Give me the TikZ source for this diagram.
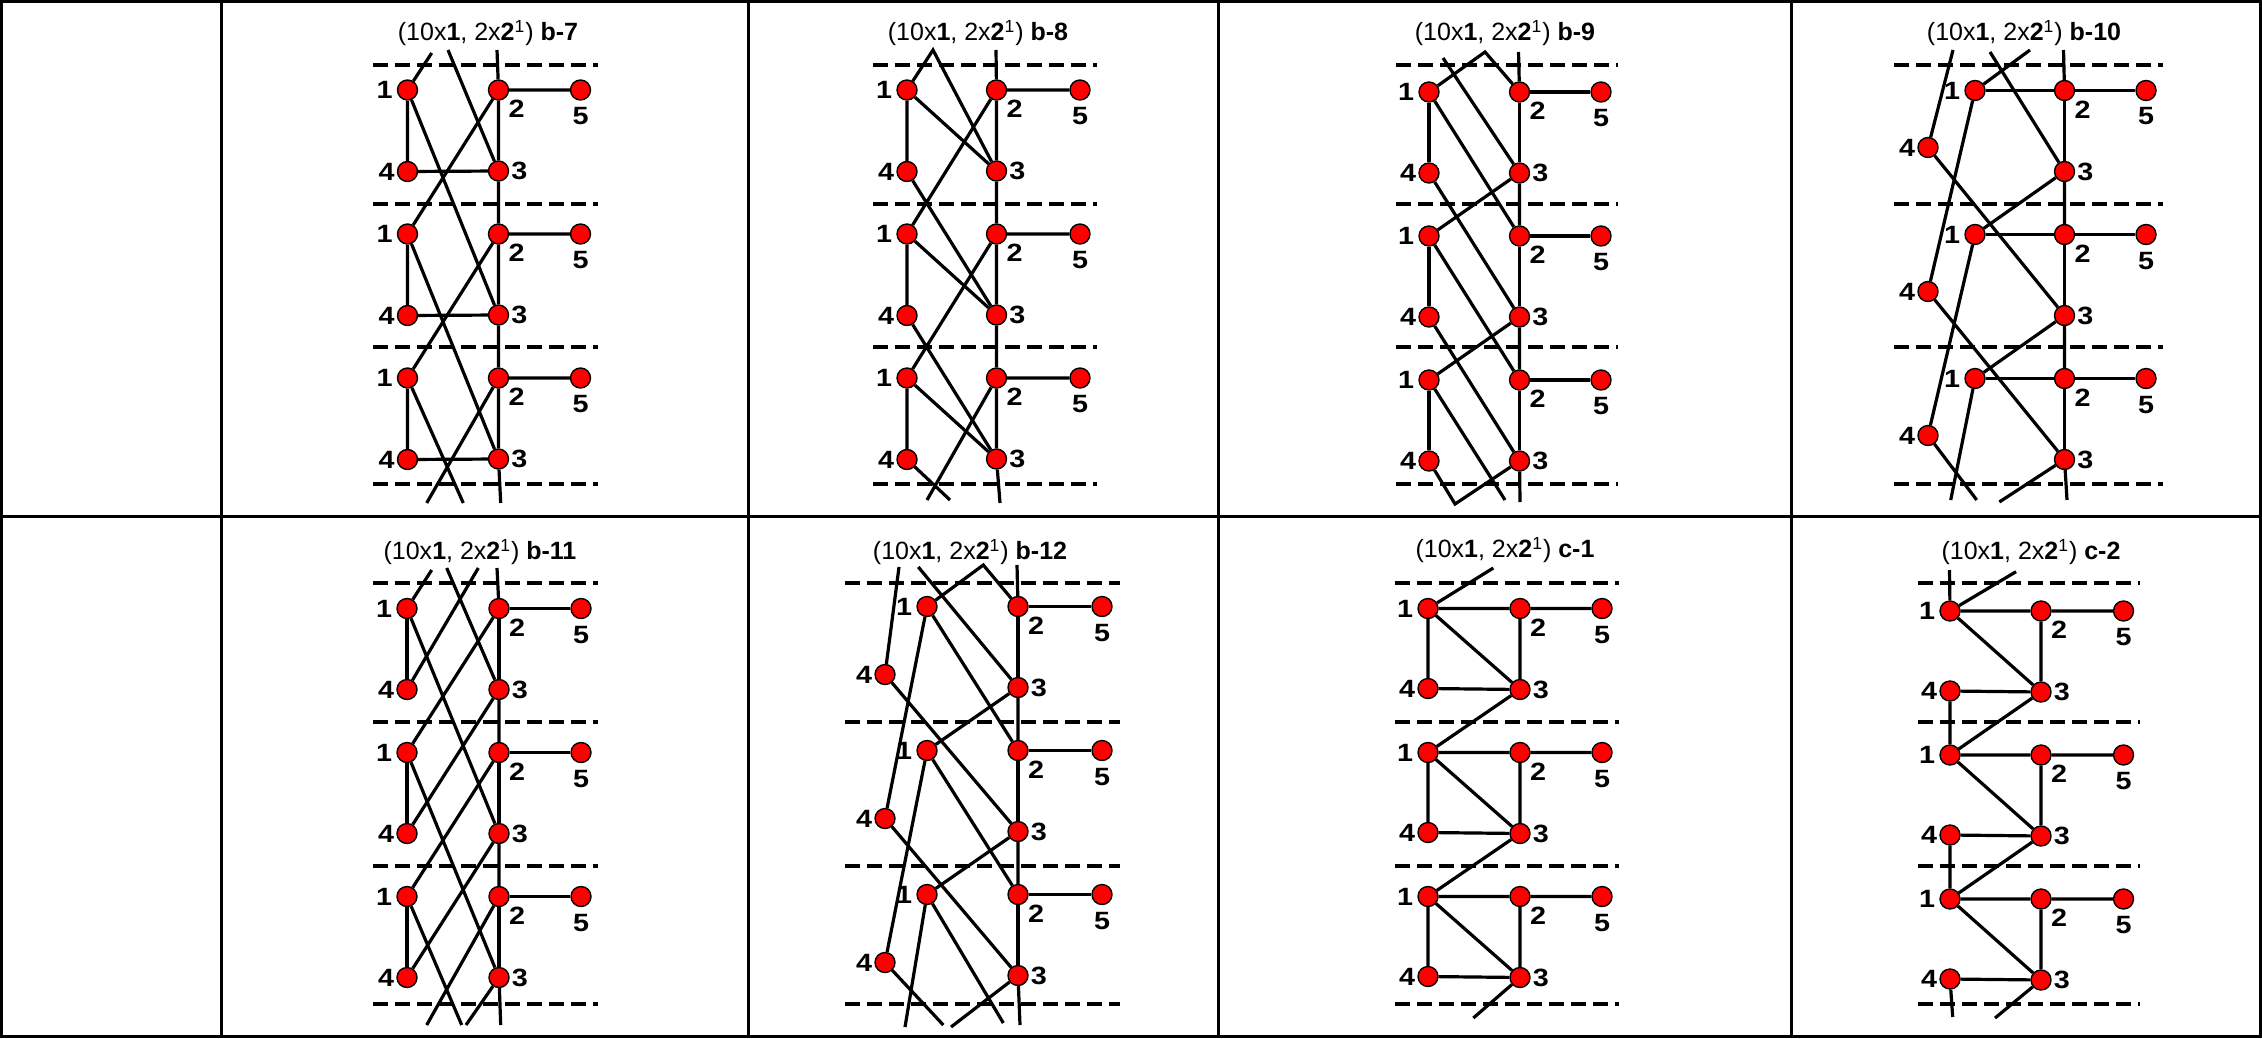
\documentclass[tikz,border=0pt]{standalone}
\usepackage{fontspec}
\setmainfont{Liberation Sans}
\newfontfamily\labfont[FakeStretch=1.15]{Liberation Sans}

% the five sites of one cell, three periods stacked
% #1 name, #2 x of 1, #3 x of 2/3, #4 x of 5, #5 x of 4, #6 y of 1, #7 drop of 4
\newcommand{\cellsites}[7]{%
  \foreach \g in {1,2,3} {
    \pgfmathsetmacro{\yy}{#6+144*(\g-1)}
    \pgfmathsetmacro{\yl}{\yy+81}
    \pgfmathsetmacro{\yf}{\yy+#7}
    \node[site, label={[lab,label distance=1.4pt]left:1}] (#1-1-\g) at (#2,\yy) {};
    \node[site, label={[lab,label distance=0.8pt]below right:2}] (#1-2-\g) at (#3,\yy) {};
    \node[site, label={[lab,label distance=0.4pt]right:3}] (#1-3-\g) at (#3,\yl) {};
    \node[site, label={[lab,label distance=0.4pt]left:4}] (#1-4-\g) at (#5,\yf) {};
    \node[site, label={[lab,label distance=2.6pt]below:5}] (#1-5-\g) at (#4,\yy) {};
  }%
}

\begin{document}
\begin{tikzpicture}[x=0.5pt, y=-0.5pt,
    site/.style={circle, fill=red, draw=black, line width=0.7pt, minimum size=10pt, inner sep=0pt},
    lab/.style={font=\labfont\fontsize{12.5}{13}\selectfont\bfseries, inner sep=0.5pt},
    ttl/.style={font=\fontsize{12.5}{14}\selectfont, inner sep=0pt},
    bond/.style={line width=1.6pt},
    cut/.style={line width=2pt, dash pattern=on 7.5pt off 3.5pt},
    tabline/.style={line width=1.5pt}]

\useasboundingbox (0,0) rectangle (2262,1038);

% Table
\draw[tabline] (1.5,1.5) rectangle (2260.5,1036.5);
\draw[tabline] (1.5,516.5) -- (2260.5,516.5);
\foreach \x in {221,748,1218,1791} {
    \draw[tabline] (\x,1.5) -- (\x,1036.5);
}

% Titles
\node[ttl] (b7-title) at (488,33) {(10x\textbf{1}, 2x\textbf{2}\textsuperscript{1}) \textbf{b-7}};
\node[ttl] (b8-title) at (978,33) {(10x\textbf{1}, 2x\textbf{2}\textsuperscript{1}) \textbf{b-8}};
\node[ttl] (b9-title) at (1505,33) {(10x\textbf{1}, 2x\textbf{2}\textsuperscript{1}) \textbf{b-9}};
\node[ttl] (b10-title) at (2024,33) {(10x\textbf{1}, 2x\textbf{2}\textsuperscript{1}) \textbf{b-10}};
\node[ttl] (b11-title) at (480,552) {(10x\textbf{1}, 2x\textbf{2}\textsuperscript{1}) \textbf{b-11}};
\node[ttl] (b12-title) at (970,552) {(10x\textbf{1}, 2x\textbf{2}\textsuperscript{1}) \textbf{b-12}};
\node[ttl] (c1-title) at (1505,550) {(10x\textbf{1}, 2x\textbf{2}\textsuperscript{1}) \textbf{c-1}};
\node[ttl] (c2-title) at (2031,552) {(10x\textbf{1}, 2x\textbf{2}\textsuperscript{1}) \textbf{c-2}};

% Period boundaries
\foreach \y in {65,204,347,484} {
    \draw[cut] (373,\y) -- (598,\y);
    \draw[cut] (873,\y) -- (1097,\y);
    \draw[cut] (1396,\y) -- (1618,\y);
    \draw[cut] (1894,\y) -- (2163,\y);
}
\foreach \y in {583,722,866,1004} {
    \draw[cut] (373,\y) -- (598,\y);
    \draw[cut] (845,\y) -- (1120,\y);
    \draw[cut] (1395,\y) -- (1619,\y);
    \draw[cut] (1918,\y) -- (2140,\y);
}

% Sites
\cellsites{b7}{407.5}{498.5}{580.5}{407.5}{90}{81.5}
\cellsites{b8}{907}{996.5}{1080}{907}{90}{81.5}
\cellsites{b9}{1429}{1519.5}{1601}{1429}{92}{81}
\cellsites{b10}{1975}{2064.5}{2146}{1928}{90.5}{57}
\cellsites{b11}{407}{499}{581}{407}{608.5}{81}
\cellsites{b12}{927}{1018}{1102}{885}{606.5}{68}
\cellsites{c1}{1428}{1520}{1602}{1428}{608.5}{80}
\cellsites{c2}{1950}{2041}{2123.5}{1950}{611}{80}

% Cut ends of the bonds that leave the cell
\coordinate (b7-t1) at (431.7,53);   \coordinate (b7-t2) at (448,50);
\coordinate (b7-t3) at (497,50);     \coordinate (b7-d1) at (426.7,503);
\coordinate (b7-d2) at (463.3,503);  \coordinate (b7-d3) at (500.7,503);
\coordinate (b8-t1) at (933,50);     \coordinate (b8-t2) at (996,50);
\coordinate (b8-d1) at (950,500);    \coordinate (b8-d2) at (927,500);
\coordinate (b8-d3) at (1000,503);
\coordinate (b9-t1) at (1485,52);    \coordinate (b9-t2) at (1443,58);
\coordinate (b9-t3) at (1518.5,52);  \coordinate (b9-d1) at (1455,504);
\coordinate (b9-d2) at (1505,500);   \coordinate (b9-d3) at (1520,502);
\coordinate (b10-t1) at (1953,50);   \coordinate (b10-t2) at (1990,52);
\coordinate (b10-t3) at (2030,50);   \coordinate (b10-t4) at (2063.5,50);
\coordinate (b10-d1) at (1950.7,500); \coordinate (b10-d2) at (1976.7,500);
\coordinate (b10-d3) at (1999.3,502); \coordinate (b10-d4) at (2067,500);
\coordinate (b11-t1) at (431.7,570); \coordinate (b11-t2) at (446.7,568);
\coordinate (b11-t3) at (478.3,568); \coordinate (b11-t4) at (497,568);
\coordinate (b11-d1) at (426.7,1025); \coordinate (b11-d2) at (461.7,1025);
\coordinate (b11-d3) at (466,1025);  \coordinate (b11-d4) at (500.7,1025);
\coordinate (b12-t1) at (899,567);   \coordinate (b12-t2) at (918.3,567);
\coordinate (b12-t3) at (983.3,565); \coordinate (b12-t4) at (1017,565);
\coordinate (b12-d1) at (905,1027);  \coordinate (b12-d2) at (943.3,1025);
\coordinate (b12-d3) at (951,1027);  \coordinate (b12-d4) at (1003.3,1023);
\coordinate (b12-d5) at (1020,1025);
\coordinate (c1-t1) at (1493.3,568); \coordinate (c1-d1) at (1473.3,1018);
\coordinate (c2-t1) at (1949.5,570); \coordinate (c2-t2) at (2016,571.7);
\coordinate (c2-d1) at (1952.7,1017); \coordinate (c2-d2) at (1995,1018);

% b-7
\foreach \g in {1,2,3} {
    \draw[bond] (b7-1-\g) -- (b7-4-\g) (b7-4-\g) -- (b7-3-\g) (b7-2-\g) -- (b7-3-\g) (b7-2-\g) -- (b7-5-\g);
}
\foreach \g/\h in {1/2,2/3} {
    \draw[bond] (b7-3-\g) -- (b7-2-\h) (b7-1-\g) -- (b7-3-\h) (b7-2-\g) -- (b7-1-\h);
}
\draw[bond] (b7-1-1) -- (b7-t1) (b7-t2) -- (b7-3-1) (b7-t3) -- (b7-2-1);
\draw[bond] (b7-2-3) -- (b7-d1) (b7-1-3) -- (b7-d2) (b7-3-3) -- (b7-d3);

% b-8
\foreach \g in {1,2,3} {
    \draw[bond] (b8-1-\g) -- (b8-4-\g) (b8-2-\g) -- (b8-3-\g) (b8-2-\g) -- (b8-5-\g) (b8-1-\g) -- (b8-3-\g);
}
\foreach \g/\h in {1/2,2/3} {
    \draw[bond] (b8-3-\g) -- (b8-2-\h) (b8-4-\g) -- (b8-3-\h) (b8-2-\g) -- (b8-1-\h);
}
\draw[bond] (b8-1-1) -- (b8-t1) -- (b8-3-1) (b8-t2) -- (b8-2-1);
\draw[bond] (b8-4-3) -- (b8-d1) (b8-2-3) -- (b8-d2) (b8-3-3) -- (b8-d3);

% b-9
\foreach \g in {1,2,3} {
    \draw[bond] (b9-1-\g) -- (b9-4-\g) (b9-2-\g) -- (b9-3-\g) (b9-2-\g) -- (b9-5-\g);
}
\foreach \g/\h in {1/2,2/3} {
    \draw[bond] (b9-3-\g) -- (b9-2-\h) (b9-1-\g) -- (b9-2-\h) (b9-4-\g) -- (b9-3-\h) (b9-3-\g) -- (b9-1-\h);
}
\draw[bond] (b9-1-1) -- (b9-t1) -- (b9-2-1) (b9-t2) -- (b9-3-1) (b9-t3) -- (b9-2-1);
\draw[bond] (b9-4-3) -- (b9-d1) -- (b9-3-3) (b9-1-3) -- (b9-d2) (b9-3-3) -- (b9-d3);

% b-10
\foreach \g in {1,2,3} {
    \draw[bond] (b10-1-\g) -- (b10-2-\g) (b10-2-\g) -- (b10-3-\g) (b10-2-\g) -- (b10-5-\g);
}
\foreach \g/\h in {1/2,2/3} {
    \draw[bond] (b10-3-\g) -- (b10-2-\h) (b10-1-\g) -- (b10-4-\h) (b10-4-\g) -- (b10-3-\h) (b10-3-\g) -- (b10-1-\h);
}
\draw[bond] (b10-t1) -- (b10-4-1) (b10-t2) -- (b10-3-1) (b10-1-1) -- (b10-t3) (b10-t4) -- (b10-2-1);
\draw[bond] (b10-1-3) -- (b10-d1) (b10-4-3) -- (b10-d2) (b10-3-3) -- (b10-d3) (b10-3-3) -- (b10-d4);

% b-11
\foreach \g in {1,2,3} {
    \draw[bond] (b11-1-\g) -- (b11-4-\g) (b11-2-\g) -- (b11-3-\g) (b11-2-\g) -- (b11-5-\g);
}
\foreach \g/\h in {1/2,2/3} {
    \draw[bond] (b11-3-\g) -- (b11-2-\h) (b11-2-\g) -- (b11-1-\h) (b11-1-\g) -- (b11-3-\h) (b11-3-\g) -- (b11-4-\h);
}
\draw[bond] (b11-1-1) -- (b11-t1) (b11-t2) -- (b11-3-1) (b11-t3) -- (b11-4-1) (b11-t4) -- (b11-2-1);
\draw[bond] (b11-2-3) -- (b11-d1) (b11-1-3) -- (b11-d2) (b11-3-3) -- (b11-d3) (b11-3-3) -- (b11-d4);

% b-12
\foreach \g in {1,2,3} {
    \draw[bond] (b12-2-\g) -- (b12-3-\g) (b12-2-\g) -- (b12-5-\g);
}
\foreach \g/\h in {1/2,2/3} {
    \draw[bond] (b12-3-\g) -- (b12-2-\h) (b12-1-\g) -- (b12-4-\h) (b12-4-\g) -- (b12-3-\h) (b12-1-\g) -- (b12-2-\h) (b12-3-\g) -- (b12-1-\h);
}
\draw[bond] (b12-t1) -- (b12-4-1) (b12-t2) -- (b12-3-1) (b12-1-1) -- (b12-t3) -- (b12-2-1) (b12-t4) -- (b12-2-1);
\draw[bond] (b12-1-3) -- (b12-d1) (b12-4-3) -- (b12-d2) (b12-3-3) -- (b12-d3) (b12-1-3) -- (b12-d4) (b12-3-3) -- (b12-d5);

% c-1
\foreach \g in {1,2,3} {
    \draw[bond] (c1-1-\g) -- (c1-2-\g) (c1-2-\g) -- (c1-5-\g) (c1-2-\g) -- (c1-3-\g) (c1-1-\g) -- (c1-4-\g) (c1-4-\g) -- (c1-3-\g) (c1-1-\g) -- (c1-3-\g);
}
\foreach \g/\h in {1/2,2/3} {
    \draw[bond] (c1-3-\g) -- (c1-1-\h);
}
\draw[bond] (c1-1-1) -- (c1-t1) (c1-3-3) -- (c1-d1);

% c-2
\foreach \g in {1,2,3} {
    \draw[bond] (c2-1-\g) -- (c2-2-\g) (c2-2-\g) -- (c2-5-\g) (c2-2-\g) -- (c2-3-\g) (c2-1-\g) -- (c2-3-\g) (c2-4-\g) -- (c2-3-\g);
}
\foreach \g/\h in {1/2,2/3} {
    \draw[bond] (c2-4-\g) -- (c2-1-\h) (c2-3-\g) -- (c2-1-\h);
}
\draw[bond] (c2-1-1) -- (c2-t1) (c2-1-1) -- (c2-t2) (c2-4-3) -- (c2-d1) (c2-3-3) -- (c2-d2);

\end{tikzpicture}
\end{document}
